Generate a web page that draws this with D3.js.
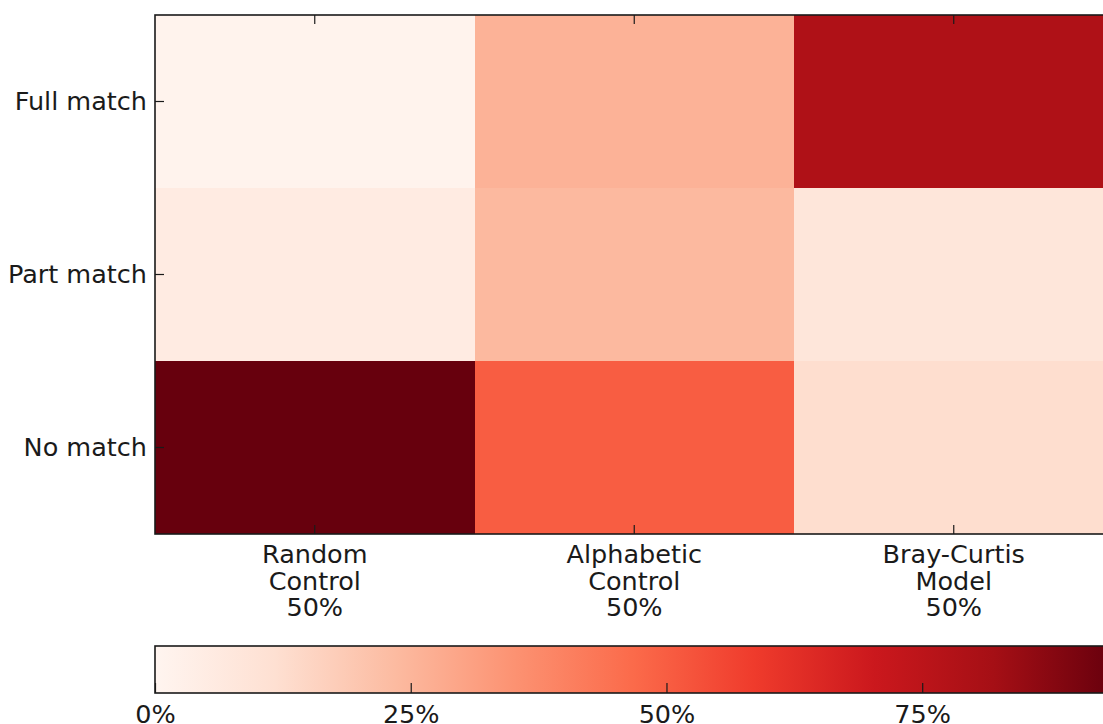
<!DOCTYPE html>
<html>
<head>
<meta charset="utf-8">
<script src="https://cdn.jsdelivr.net/npm/d3@7"></script>
<style>
  html, body { margin: 0; padding: 0; background: #fff; overflow: hidden; }
  svg { display: block; }
  text { font-family: "DejaVu Sans", sans-serif; fill: #1a1a1a; }
</style>
</head>
<body>
<svg id="chart" width="1103" height="724"></svg>
<script>
// Row and column categories
const rowLabels = ["Full match", "Part match", "No match"];
const columnLabels = [
  ["Random", "Control", "50%"],
  ["Alphabetic", "Control", "50%"],
  ["Bray-Curtis", "Model", "50%"]
];

// Percent of cases per outcome, one array per method (top to bottom rows)
const randomControl     = [1.0, 5.3, 93.7];
const alphabeticControl = [26.0, 24.0, 50.0];
const brayCurtisModel   = [79.0, 8.5, 12.5];

// Colour bar tick values (percent)
const colorbarTicks = [0, 25, 50, 75];

// Sequential red palette, linearly interpolated between its nine anchors
const redsAnchors = ["#fff5f0", "#fee0d2", "#fcbba1", "#fc9272", "#fb6a4a",
                     "#ef3b2c", "#cb181d", "#a50f15", "#67000d"];

const series = [randomControl, alphabeticControl, brayCurtisModel];
const cells = [];
series.forEach((vals, ci) => {
  vals.forEach((v, ri) => cells.push({ col: ci, row: ri, value: v }));
});
const vmax = d3.max(cells, d => d.value);
const vmin = 0;

const svg = d3.select("#chart");
const fontSize = 25.5;
const lineGap = 26.3;

const plot = { left: 155, top: 15, right: 1113.5, bottom: 534 };

const x = d3.scaleBand()
  .domain(d3.range(columnLabels.length))
  .range([plot.left, plot.right])
  .paddingInner(0).paddingOuter(0);

const y = d3.scaleBand()
  .domain(rowLabels)
  .range([plot.top, plot.bottom])
  .paddingInner(0).paddingOuter(0);

const redsNorm = d3.scaleLinear()
  .domain(d3.range(redsAnchors.length).map(i => i / (redsAnchors.length - 1)))
  .range(redsAnchors)
  .interpolate(d3.interpolateRgb)
  .clamp(true);
const color = v => redsNorm((v - vmin) / (vmax - vmin));

// Heatmap cells
svg.append("g")
  .selectAll("rect")
  .data(cells)
  .join("rect")
  .attr("x", d => x(d.col))
  .attr("y", d => y(rowLabels[d.row]))
  .attr("width", x.bandwidth())
  .attr("height", y.bandwidth())
  .attr("fill", d => color(d.value))
  .attr("shape-rendering", "crispEdges");

// Inward ticks on all four sides
const tickLen = 9;
const stroke = "#1a1a1a";

const yAxis = d3.axisLeft(y).tickSize(-tickLen).tickPadding(8).tickSizeOuter(0);
const gy = svg.append("g").attr("transform", `translate(${plot.left},0)`).call(yAxis);
gy.select(".domain").remove();
gy.selectAll("line").attr("stroke", stroke).attr("stroke-width", 1.2);
gy.selectAll("text")
  .attr("font-size", fontSize)
  .attr("font-family", "DejaVu Sans")
  .attr("fill", "#1a1a1a");

const yAxisR = d3.axisRight(y).tickSize(-tickLen).tickFormat("").tickSizeOuter(0);
const gyr = svg.append("g").attr("transform", `translate(${plot.right},0)`).call(yAxisR);
gyr.select(".domain").remove();
gyr.selectAll("line").attr("stroke", stroke).attr("stroke-width", 1.2);

const xCenters = columnLabels.map((_, i) => x(i) + x.bandwidth() / 2);
const xTickScale = d3.scaleOrdinal().domain(d3.range(columnLabels.length)).range(xCenters);

const xAxisB = d3.axisBottom(x).tickSize(-tickLen).tickFormat("").tickSizeOuter(0);
const gxb = svg.append("g").attr("transform", `translate(0,${plot.bottom})`).call(xAxisB);
gxb.select(".domain").remove();
gxb.selectAll("line").attr("stroke", stroke).attr("stroke-width", 1.2);

const xAxisT = d3.axisTop(x).tickSize(-tickLen).tickFormat("").tickSizeOuter(0);
const gxt = svg.append("g").attr("transform", `translate(0,${plot.top})`).call(xAxisT);
gxt.select(".domain").remove();
gxt.selectAll("line").attr("stroke", stroke).attr("stroke-width", 1.2);

// Multi-line column labels
const colText = svg.append("g")
  .selectAll("text")
  .data(columnLabels)
  .join("text")
  .attr("text-anchor", "middle")
  .attr("font-size", fontSize)
  .attr("transform", (d, i) => `translate(${x(i) + x.bandwidth() / 2},${plot.bottom + 29.3})`);
colText.selectAll("tspan")
  .data(d => d)
  .join("tspan")
  .attr("x", 0)
  .attr("y", (d, i) => i * lineGap)
  .text(d => d);

// Plot frame
svg.append("rect")
  .attr("x", plot.left).attr("y", plot.top)
  .attr("width", plot.right - plot.left)
  .attr("height", plot.bottom - plot.top)
  .attr("fill", "none")
  .attr("stroke", stroke)
  .attr("stroke-width", 1.6);

// Colour bar
const cb = { top: 646, bottom: 693 };
const cbScale = d3.scaleLinear().domain([vmin, vmax]).range([plot.left, plot.right]);

const defs = svg.append("defs");
const grad = defs.append("linearGradient")
  .attr("id", "redsGradient")
  .attr("x1", "0%").attr("x2", "100%").attr("y1", "0%").attr("y2", "0%");
grad.selectAll("stop")
  .data(redsAnchors)
  .join("stop")
  .attr("offset", (d, i) => `${(i / (redsAnchors.length - 1)) * 100}%`)
  .attr("stop-color", d => d);

svg.append("rect")
  .attr("x", cbScale(vmin)).attr("y", cb.top)
  .attr("width", cbScale(vmax) - cbScale(vmin))
  .attr("height", cb.bottom - cb.top)
  .attr("fill", "url(#redsGradient)");

const cbAxis = d3.axisBottom(cbScale)
  .tickValues(colorbarTicks)
  .tickFormat(d => d + "%")
  .tickSize(-10)
  .tickPadding(12)
  .tickSizeOuter(0);
const gcb = svg.append("g").attr("transform", `translate(0,${cb.bottom})`).call(cbAxis);
gcb.select(".domain").remove();
gcb.selectAll("line").attr("stroke", stroke).attr("stroke-width", 1.2);
gcb.selectAll("text")
  .attr("font-size", fontSize)
  .attr("font-family", "DejaVu Sans")
  .attr("fill", "#1a1a1a");

svg.append("rect")
  .attr("x", cbScale(vmin)).attr("y", cb.top)
  .attr("width", cbScale(vmax) - cbScale(vmin))
  .attr("height", cb.bottom - cb.top)
  .attr("fill", "none")
  .attr("stroke", stroke)
  .attr("stroke-width", 1.6);
</script>
</body>
</html>
